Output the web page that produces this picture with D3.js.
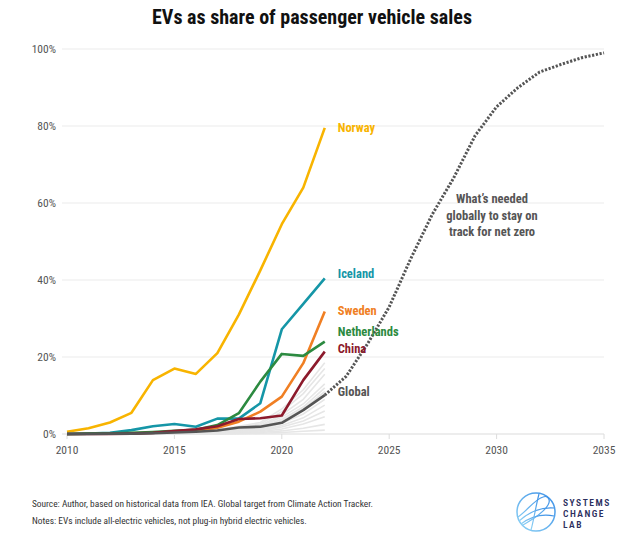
<!DOCTYPE html>
<html>
<head>
<meta charset="utf-8">
<script src="https://cdn.jsdelivr.net/npm/d3@7"></script>
<style>
  body { margin: 0; background: #fff; }
  svg text { font-family: "Roboto Condensed", "Liberation Sans Narrow", "DejaVu Sans Condensed", sans-serif; }
</style>
</head>
<body>
<svg id="chart" width="624" height="544"></svg>
<script>
// historical years
var years = [2010, 2011, 2012, 2013, 2014, 2015, 2016, 2017, 2018, 2019, 2020, 2021, 2022];

var norway      = [0.6, 1.5, 3.0, 5.5, 14.0, 17.0, 15.6, 21.0, 31.0, 42.5, 54.5, 64.0, 79.5];
var iceland     = [0.0, 0.1, 0.3, 1.0, 2.0, 2.6, 1.9, 4.0, 4.0, 8.0, 27.2, 33.8, 40.4];
var sweden      = [0.0, 0.1, 0.2, 0.2, 0.4, 0.6, 0.9, 1.6, 3.2, 5.8, 9.7, 18.4, 31.8];
var netherlands = [0.0, 0.1, 0.2, 0.3, 0.5, 0.8, 1.1, 2.3, 5.4, 13.6, 20.8, 20.3, 24.0];
var china       = [0.0, 0.0, 0.0, 0.1, 0.3, 0.8, 1.2, 2.0, 3.9, 4.1, 4.8, 14.0, 21.4];
var global      = [0.0, 0.0, 0.1, 0.1, 0.2, 0.4, 0.6, 0.9, 1.7, 1.9, 2.9, 6.2, 10.1];

// other countries, drawn in light grey
var others = [
  [0, 0, 0, 0.1, 0.2, 0.4, 0.7, 1.2, 2.0, 3.0, 6.5, 11.5, 18.5],
  [0, 0, 0, 0.1, 0.2, 0.3, 0.5, 0.9, 1.6, 2.6, 5.8, 10.5, 17.0],
  [0, 0, 0, 0.1, 0.1, 0.3, 0.4, 0.8, 1.4, 2.2, 5.0, 9.0, 15.5],
  [0, 0, 0, 0.0, 0.1, 0.2, 0.4, 0.7, 1.2, 2.0, 4.4, 7.8, 13.0],
  [0, 0, 0, 0.0, 0.1, 0.2, 0.3, 0.6, 1.0, 1.8, 3.8, 7.0, 12.0],
  [0, 0, 0, 0.0, 0.1, 0.2, 0.3, 0.5, 0.9, 1.5, 3.4, 6.5, 11.0],
  [0, 0, 0, 0.0, 0.1, 0.1, 0.2, 0.4, 0.7, 1.2, 2.8, 5.2, 9.0],
  [0, 0, 0, 0.0, 0.0, 0.1, 0.2, 0.3, 0.6, 1.0, 2.2, 4.2, 7.5],
  [0, 0, 0, 0.0, 0.0, 0.1, 0.1, 0.2, 0.4, 0.8, 1.8, 3.4, 6.0],
  [0, 0, 0, 0.0, 0.0, 0.0, 0.1, 0.2, 0.3, 0.6, 1.3, 2.6, 4.5],
  [0, 0, 0, 0.0, 0.0, 0.0, 0.0, 0.1, 0.2, 0.4, 0.8, 1.5, 2.5],
  [0, 0, 0, 0.0, 0.0, 0.0, 0.0, 0.0, 0.1, 0.2, 0.4, 0.7, 1.0]
];

// pathway needed for net zero
var targetYears = [2022, 2023, 2024, 2025, 2026, 2027, 2028, 2029, 2030, 2031, 2032, 2033, 2034, 2035];
var target      = [10.1, 15.0, 23.5, 33.0, 45.5, 57.0, 66.5, 77.5, 85.0, 90.0, 94.0, 96.0, 97.8, 99.0];

var yTicks = [0, 20, 40, 60, 80, 100];
var xTicks = [2010, 2015, 2020, 2025, 2030, 2035];

var seriesNames  = ["Norway", "Sweden", "Iceland", "Netherlands", "China", "Global"];
var seriesValues = [norway, sweden, iceland, netherlands, china, global];
var seriesColors = ["#f8b400", "#f07f23", "#1596a7", "#2c8a40", "#8c1a2c", "#555555"];
// value at which each end label sits
var labelAt      = [79.5, 32, 41.5, 26.5, 22, 11];

var noteLines = ["What\u2019s needed", "globally to stay on", "track for net zero"];
var footLines = [
  "Source: Author, based on historical data from IEA. Global target from Climate Action Tracker.",
  "Notes: EVs include all-electric vehicles, not plug-in hybrid electric vehicles."
];
var logoLines = ["SYSTEMS", "CHANGE", "LAB"];

var series = seriesNames.map((n, i) => ({ name: n, values: seriesValues[i], color: seriesColors[i], at: labelAt[i] }));

var svg = d3.select("#chart");

var x = d3.scaleLinear().domain([2010, 2035]).range([67, 604]);
var y = d3.scaleLinear().domain([0, 100]).range([434, 49]);

svg.append("text")
  .attr("x", 312).attr("y", 24)
  .attr("text-anchor", "middle")
  .attr("font-size", 20).attr("font-weight", "bold")
  .attr("fill", "#111")
  .text("EVs as share of passenger vehicle sales");

// grid
svg.append("g").selectAll("line")
  .data(yTicks)
  .join("line")
  .attr("x1", 62).attr("x2", 604)
  .attr("y1", d => y(d)).attr("y2", d => y(d))
  .attr("stroke", d => d === 0 ? "#dcdcdc" : "#ececec")
  .attr("stroke-width", 1.2);

svg.append("g").selectAll("text")
  .data(yTicks)
  .join("text")
  .attr("x", 56).attr("y", d => y(d) + 4)
  .attr("text-anchor", "end")
  .attr("font-size", 11.5).attr("fill", "#555")
  .text(d => d + "%");

svg.append("g").selectAll("line")
  .data(xTicks)
  .join("line")
  .attr("x1", d => x(d)).attr("x2", d => x(d))
  .attr("y1", 434).attr("y2", 439)
  .attr("stroke", "#dcdcdc");

svg.append("g").selectAll("text")
  .data(xTicks)
  .join("text")
  .attr("x", d => x(d)).attr("y", 454)
  .attr("text-anchor", "middle")
  .attr("font-size", 11.5).attr("fill", "#555")
  .text(d => d);

var line = d3.line()
  .x((d, i) => x(years[i]))
  .y(d => y(d));

svg.append("g").selectAll("path")
  .data(others)
  .join("path")
  .attr("d", line)
  .attr("fill", "none")
  .attr("stroke", "#e6e6e6")
  .attr("stroke-width", 1.6);

svg.append("path")
  .attr("d", d3.line().x((d, i) => x(targetYears[i])).y(d => y(d))(target))
  .attr("fill", "none")
  .attr("stroke", "#555")
  .attr("stroke-width", 3)
  .attr("stroke-dasharray", "2.2 1.6");

svg.append("g").selectAll("path")
  .data(series)
  .join("path")
  .attr("d", d => line(d.values))
  .attr("fill", "none")
  .attr("stroke", d => d.color)
  .attr("stroke-width", 2.6)
  .attr("stroke-linejoin", "round");

svg.append("g").selectAll("text")
  .data(series)
  .join("text")
  .attr("x", x(2022) + 13)
  .attr("y", d => y(d.at) + 4)
  .attr("font-size", 12.5).attr("font-weight", "bold")
  .attr("fill", d => d.color)
  .text(d => d.name);

svg.append("g").selectAll("text")
  .data(noteLines)
  .join("text")
  .attr("x", 492).attr("y", (d, i) => 203 + i * 16.5)
  .attr("text-anchor", "middle")
  .attr("font-size", 12.5).attr("font-weight", "bold")
  .attr("fill", "#555")
  .text(d => d);

svg.append("g").selectAll("text")
  .data(footLines)
  .join("text")
  .attr("x", 32).attr("y", (d, i) => 507 + i * 16.5)
  .attr("font-size", 9.4).attr("fill", "#333")
  .text(d => d);

// logo
var defs = svg.append("defs");
var grad = defs.append("linearGradient").attr("id", "lg")
  .attr("x1", "0%").attr("y1", "100%").attr("x2", "100%").attr("y2", "0%");
grad.append("stop").attr("offset", "0%").attr("stop-color", "#8fd3f5");
grad.append("stop").attr("offset", "100%").attr("stop-color", "#3a8ee6");

var logo = svg.append("g").attr("transform", "translate(536,512)");
logo.append("circle").attr("r", 19).attr("fill", "none").attr("stroke", "url(#lg)").attr("stroke-width", 1.5);
logo.append("path").attr("d", "M-18,5 C-8,-2 -2,-12 7,-15 C12,-17 15,-12 12,-7 C7,2 -5,8 -13,13")
  .attr("fill", "none").attr("stroke", "url(#lg)").attr("stroke-width", 1.2);
logo.append("path").attr("d", "M-17,9 C-7,0 5,-5 18,-4")
  .attr("fill", "none").attr("stroke", "url(#lg)").attr("stroke-width", 1.2);
logo.append("path").attr("d", "M-15,12 C-3,3 8,2 18,4")
  .attr("fill", "none").attr("stroke", "url(#lg)").attr("stroke-width", 1.2);
logo.append("path").attr("d", "M3,-18 C0,-7 -2,7 -5,18")
  .attr("fill", "none").attr("stroke", "url(#lg)").attr("stroke-width", 1.2);

svg.append("g").selectAll("text")
  .data(logoLines)
  .join("text")
  .attr("x", 563).attr("y", (d, i) => 506 + i * 11)
  .attr("font-family", "Inter, 'DejaVu Sans', sans-serif")
  .attr("font-size", 9.5).attr("font-weight", 600)
  .attr("letter-spacing", 1.5)
  .attr("fill", "#2c2f5e")
  .text(d => d);
</script>
</body>
</html>
